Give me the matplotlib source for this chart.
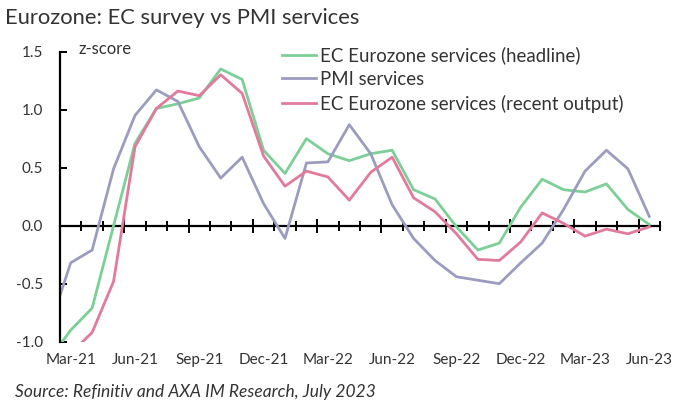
import numpy as np
import matplotlib.pyplot as plt
from matplotlib.ticker import FixedLocator

# monthly, Feb-21 (clipped at left edge) to Jun-23
months = ["Feb-21", "Mar-21", "Apr-21", "May-21", "Jun-21", "Jul-21", "Aug-21", "Sep-21",
          "Oct-21", "Nov-21", "Dec-21", "Jan-22", "Feb-22", "Mar-22", "Apr-22",
          "May-22", "Jun-22", "Jul-22", "Aug-22", "Sep-22", "Oct-22", "Nov-22",
          "Dec-22", "Jan-23", "Feb-23", "Mar-23", "Apr-23", "May-23", "Jun-23"]
ec_headline = [-1.15, -0.90, -0.71, 0.00, 0.71, 1.01, 1.05, 1.10, 1.35, 1.26, 0.65,
               0.45, 0.75, 0.62, 0.56, 0.62, 0.65, 0.31, 0.23, -0.01, -0.21, -0.15,
               0.16, 0.40, 0.31, 0.29, 0.36, 0.14, 0.01]
pmi_services = [-0.88, -0.32, -0.21, 0.49, 0.95, 1.17, 1.07, 0.68, 0.41, 0.59, 0.19,
                -0.11, 0.54, 0.55, 0.87, 0.62, 0.18, -0.11, -0.30, -0.44, -0.47, -0.50,
                -0.32, -0.15, 0.14, 0.47, 0.65, 0.49, 0.08]
ec_recent = [-1.25, -1.10, -0.92, -0.48, 0.68, 1.01, 1.16, 1.12, 1.30, 1.14, 0.60,
             0.34, 0.47, 0.42, 0.22, 0.46, 0.59, 0.24, 0.12, -0.07, -0.29, -0.30,
             -0.14, 0.11, 0.02, -0.09, -0.03, -0.07, -0.01]
label_months = ["Mar-21", "Jun-21", "Sep-21", "Dec-21", "Mar-22", "Jun-22",
                "Sep-22", "Dec-22", "Mar-23", "Jun-23"]

plt.rcParams['font.family'] = ['Lato', 'DejaVu Sans']

GREEN = "#7ccf96"
PURPLE = "#9c9cc0"
PINK = "#e27a9c"
TXT = "#333333"

x = np.arange(len(months)) - 1  # Mar-21 -> 0

fig = plt.figure(figsize=(6.78, 4.03), dpi=100)
ax = fig.add_axes([0.0885, 0.152, 0.885, 0.72])

ax.plot(x, ec_headline, color=GREEN, lw=2.0, label="EC Eurozone services (headline)")
ax.plot(x, pmi_services, color=PURPLE, lw=2.0, label="PMI services")
ax.plot(x, ec_recent, color=PINK, lw=2.0, label="EC Eurozone services (recent output)")

n = len(months) - 1
ax.set_xlim(-0.5, n - 0.5)
ax.set_ylim(-1.0, 1.5)

for s in ["top", "right", "bottom"]:
    ax.spines[s].set_visible(False)
ax.spines["left"].set_linewidth(1.6)

ax.set_yticks([-1.0, -0.5, 0.0, 0.5, 1.0, 1.5])
ax.set_yticklabels(["-1.0", "-0.5", "0.0", "0.5", "1.0", "1.5"], fontsize=11, color=TXT)
ax.tick_params(axis="y", direction="in", length=5, width=1.4, pad=12)

label_pos = [months.index(m) - 1 for m in label_months]
ax.set_xticks(label_pos)
ax.set_xticklabels(label_months, fontsize=11, color=TXT)
ax.tick_params(axis="x", length=0, pad=8)

# zero line with category tick marks
y0 = (0 - (-1.0)) / 2.5
zax = ax.secondary_xaxis(y0)
zax.spines["bottom"].set_linewidth(1.6)
zax.set_xticks(np.arange(2.5, n, 3.0))
zax.xaxis.set_minor_locator(FixedLocator(np.arange(-0.5, n, 1.0)))
zax.tick_params(which="major", direction="inout", length=10, width=1.4, labelbottom=False)
zax.tick_params(which="minor", direction="inout", length=7, width=1.4)
zax.set_xticklabels([])

ax.text(0.03, 1.01, "z-score", transform=ax.transAxes, fontsize=12, color=TXT,
        ha="left", va="center")

ax.legend(loc="upper left", bbox_to_anchor=(0.37, 1.018), frameon=False, fontsize=13.4,
          handlelength=1.8, handletextpad=0.25, labelspacing=0.36, borderaxespad=0,
          borderpad=0, labelcolor=TXT)

fig.text(0.008, 0.955, "Eurozone: EC survey vs PMI services", fontsize=15.8,
         color=TXT, ha="left", va="center")
fig.text(0.022, 0.027, "Source: Refinitiv and AXA IM Research, July 2023", fontsize=12.5,
         style="italic", color=TXT, ha="left", va="center")

fig.savefig("out.png", dpi=100)
